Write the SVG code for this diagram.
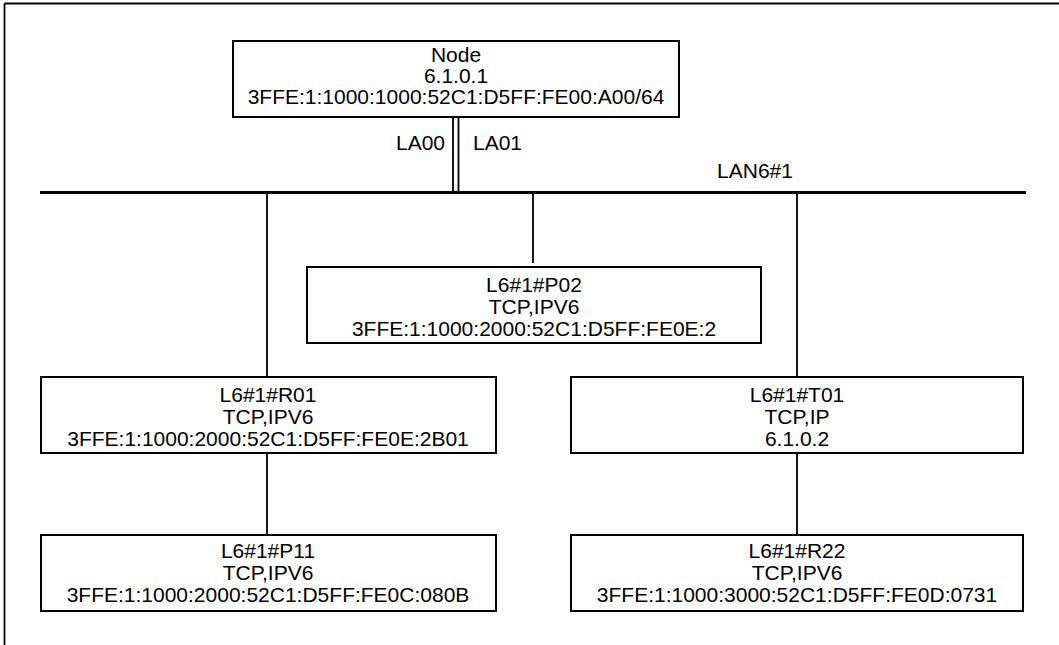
<svg xmlns="http://www.w3.org/2000/svg" width="1059" height="645" viewBox="0 0 1059 645">
<style>
.box{fill:#fff;stroke:#000;stroke-width:2}
.t{font-family:"Liberation Sans",Arial,Helvetica,sans-serif;font-size:21px;fill:#000;text-anchor:middle}
.ln{stroke:#000;stroke-width:1.8;fill:none}
</style>
<rect x="0" y="0" width="1059" height="645" fill="#fff"/>
<g id="frame"><path class="ln" d="M4.5,3.5 H1059 M4.5,3.5 V645"/></g>
<g id="connectors">
<path class="ln" d="M453,117 V192 M458.5,117 V192"/>
<path d="M40,192.5 H1026" stroke="#000" stroke-width="3"/>
<path class="ln" d="M267,192 V377 M533,192 V263 M797,192 V377 M267,453 V535 M797,453 V535"/>
<text class="t" x="445" y="150" style="text-anchor:end">LA00</text>
<text class="t" x="473" y="150" style="text-anchor:start">LA01</text>
<text class="t" x="755" y="178">LAN6#1</text>
</g>
<g id="node">
<rect class="box" x="233" y="41" width="446" height="76"/>
<text class="t" x="456" y="62">Node</text>
<text class="t" x="456" y="83">6.1.0.1</text>
<text class="t" x="456" y="104">3FFE:1:1000:1000:52C1:D5FF:FE00:A00/64</text>
</g>
<g id="p02">
<rect class="box" x="307" y="267" width="454" height="76"/>
<text class="t" x="534" y="292">L6#1#P02</text>
<text class="t" x="534" y="314">TCP,IPV6</text>
<text class="t" x="534" y="336">3FFE:1:1000:2000:52C1:D5FF:FE0E:2</text>
</g>
<g id="r01">
<rect class="box" x="41" y="377" width="455" height="76"/>
<text class="t" x="268" y="402">L6#1#R01</text>
<text class="t" x="268" y="424">TCP,IPV6</text>
<text class="t" x="268" y="446">3FFE:1:1000:2000:52C1:D5FF:FE0E:2B01</text>
</g>
<g id="t01">
<rect class="box" x="571" y="377" width="452" height="76"/>
<text class="t" x="797" y="402">L6#1#T01</text>
<text class="t" x="797" y="424">TCP,IP</text>
<text class="t" x="797" y="446">6.1.0.2</text>
</g>
<g id="p11">
<rect class="box" x="41" y="535" width="455" height="76"/>
<text class="t" x="268" y="558">L6#1#P11</text>
<text class="t" x="268" y="580">TCP,IPV6</text>
<text class="t" x="268" y="602">3FFE:1:1000:2000:52C1:D5FF:FE0C:080B</text>
</g>
<g id="r22">
<rect class="box" x="571" y="535" width="452" height="76"/>
<text class="t" x="797" y="558">L6#1#R22</text>
<text class="t" x="797" y="580">TCP,IPV6</text>
<text class="t" x="797" y="602">3FFE:1:1000:3000:52C1:D5FF:FE0D:0731</text>
</g>
</svg>
